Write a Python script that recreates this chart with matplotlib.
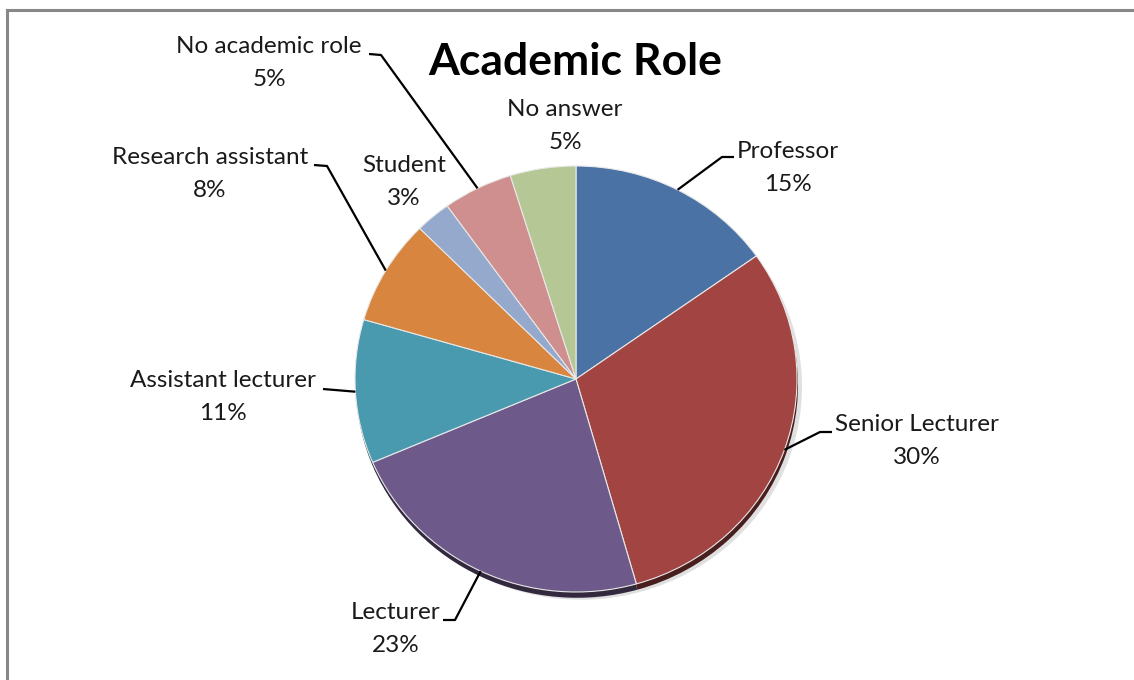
import numpy as np
import matplotlib
matplotlib.use("Agg")
import matplotlib.pyplot as plt
import matplotlib.colors as mcolors

# data, clockwise from 12 o'clock
roles = ["Professor", "Senior Lecturer", "Lecturer", "Assistant lecturer",
         "Research assistant", "Student", "No academic role", "No answer"]
shares = [15.2, 30.4, 23.0, 10.9, 8.0, 2.6, 5.1, 4.8]
colors = ["#4A72A5", "#A24442", "#6E5A8A", "#4A9AAF",
          "#D8853F", "#95A9CC", "#CE8F8E", "#B5C795"]

W, H = 1134, 680
rx, ry = 221, 213          # pie is slightly squashed in the original
k = rx / ry
def py(y):
    return (H - y) * k

fig = plt.figure(figsize=(W / 100, H / 100), dpi=100)
ax = fig.add_axes([0, 0, 1, 1])

cx, cy, r = 576, py(379), rx

# shadow / rim
ax.pie(shares, center=(cx + 5, cy - 8), radius=r, startangle=90, counterclock=False,
       colors=["#999999"] * len(shares), wedgeprops=dict(linewidth=0, alpha=0.3), frame=True)
dark = [tuple(c * 0.45 for c in mcolors.to_rgb(col)) for col in colors]
ax.pie(shares, center=(cx + 1, cy - 6), radius=r, startangle=90, counterclock=False,
       colors=dark, wedgeprops=dict(linewidth=0), frame=True)
wedges, _ = ax.pie(shares, center=(cx, cy), radius=r, startangle=90, counterclock=False,
                   colors=colors, wedgeprops=dict(edgecolor="#e8e8e8", linewidth=0.8), frame=True)
ax.set_xlim(0, W)
ax.set_ylim(0, H * k)
ax.set_aspect("auto")
ax.axis("off")

font = "Lato"
tot = sum(shares)

# label centre (x, y), leader start near text, leader elbow (None = no line)
label_pos = {
    "Professor": (788, 168, (734, 157), (722, 157)),
    "Senior Lecturer": (917, 441, (832, 432), (820, 432)),
    "Lecturer": (396, 629, (443, 620), (455, 620)),
    "Assistant lecturer": (223, 397, (323, 389), (323, 389)),
    "Research assistant": (210, 174, (314, 165), (327, 166)),
    "Student": (404, 182, None, None),
    "No academic role": (269, 63, (369, 54), (381, 55)),
    "No answer": (565, 126, None, None),
}

for w, name, val in zip(wedges, roles, shares):
    x, y, start, elbow = label_pos[name]
    ax.text(x, py(y), f"{name}\n{round(val / tot * 100):d}%", ha="center", va="center",
            fontsize=17.5, family=font, color="#1a1a1a", linespacing=1.65)
    if start is not None:
        mid = np.deg2rad((w.theta1 + w.theta2) / 2)
        ex, ey = cx + r * np.cos(mid), cy + r * np.sin(mid)
        ax.plot([start[0], elbow[0], ex], [py(start[1]), py(elbow[1]), ey],
                color="black", lw=1.6, solid_capstyle="butt", zorder=5)

ax.text(575, py(62), "Academic Role", ha="center", va="center",
        fontsize=32, fontweight="bold", family=font, color="black")

# chart border (top and left only visible)
fig.add_artist(plt.Line2D([7 / W, 1], [1 - 10 / H, 1 - 10 / H], color="#888888", lw=2.2))
fig.add_artist(plt.Line2D([7 / W, 7 / W], [0, 1 - 10 / H], color="#888888", lw=2.2))

fig.savefig("out.png", dpi=100, facecolor="white")
